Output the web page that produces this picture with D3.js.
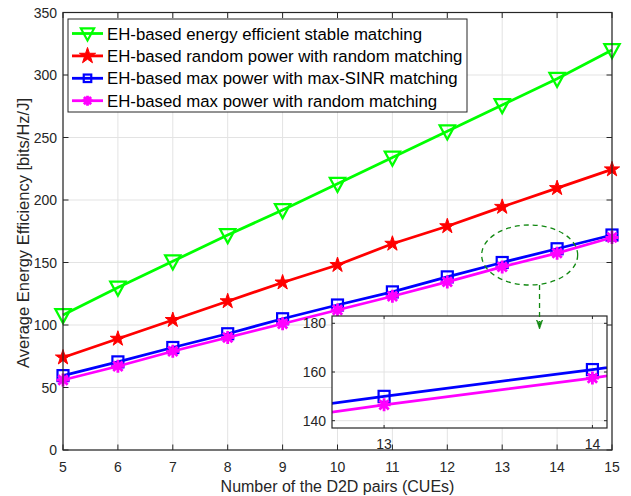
<!DOCTYPE html>
<html>
<head>
<meta charset="utf-8">
<script src="https://cdn.jsdelivr.net/npm/d3@7"></script>
<style>
  body { margin: 0; background: white; }
  svg { display: block; font-family: "Liberation Sans", Arial, sans-serif; }
</style>
</head>
<body>
<div id="chart"></div>
<script>
// 데이터
const pairs = [5, 6, 7, 8, 9, 10, 11, 12, 13, 14, 15];
const stableMatching = [108, 130, 151, 172, 192, 213, 234, 255, 276, 297, 320];
const randomPowerRandom = [74, 89, 104, 119, 134, 148, 165, 179, 194.5, 209.5, 224.5];
const maxPowerSinr = [59.5, 70.5, 82, 93, 105, 116, 126.5, 138.5, 150, 161, 172];
const maxPowerRandom = [56, 67, 79, 90, 101, 112, 123, 134.5, 146.5, 157.5, 170];
const yTicks = [0, 50, 100, 150, 200, 250, 300, 350];
const insetYTicks = [140, 160, 180];
const insetXTicks = [13, 14];
const seriesNames = [
  'EH-based energy efficient stable matching',
  'EH-based random power with random matching',
  'EH-based max power with max-SINR matching',
  'EH-based max power with random matching'
];

const series = [
  { name: seriesNames[0], values: stableMatching, color: '#00ff00', marker: 'tri' },
  { name: seriesNames[1], values: randomPowerRandom, color: '#ff0000', marker: 'star' },
  { name: seriesNames[2], values: maxPowerSinr, color: '#0000ff', marker: 'square' },
  { name: seriesNames[3], values: maxPowerRandom, color: '#ff00ff', marker: 'aster' }
];

const W = 631, H = 496;
const axisColor = '#262626';
const gridColor = '#e3e3e3';

const svg = d3.select('#chart').append('svg').attr('width', W).attr('height', H);

const x = d3.scaleLinear().domain([5, 15]).range([63, 612]);
const y = d3.scaleLinear().domain([0, 350]).range([450, 12.5]);

// 마커 그리기
function drawMarker(g, type, color, s) {
  if (type === 'tri') {
    g.append('path')
      .attr('d', `M${-s * 0.55},${-s * 0.42}L${s * 0.55},${-s * 0.42}L0,${s * 0.58}Z`)
      .attr('fill', 'none').attr('stroke', color).attr('stroke-width', 2.2);
  } else if (type === 'star') {
    // s = 바깥 반지름 * 2
    const r = s / 2;
    g.append('path')
      .attr('d', d3.symbol(d3.symbolStar, r * r / 0.8908)())
      .attr('fill', color).attr('stroke', color).attr('stroke-width', 1);
  } else if (type === 'square') {
    g.append('rect')
      .attr('x', -s / 2).attr('y', -s / 2).attr('width', s).attr('height', s)
      .attr('fill', 'none').attr('stroke', color).attr('stroke-width', 2.2);
  } else {
    const r = s / 2, d = r * 0.72;
    g.append('path')
      .attr('d', `M${-r},0L${r},0M0,${-r}L0,${r}M${-d},${-d}L${d},${d}M${-d},${d}L${d},${-d}`)
      .attr('fill', 'none').attr('stroke', color).attr('stroke-width', 2.8);
  }
}

const markerSize = { tri: 14, star: 16, square: 11, aster: 13 };

// 그리드
const main = svg.append('g');
main.selectAll('.vgrid').data(pairs).enter().append('line')
  .attr('x1', d => x(d)).attr('x2', d => x(d))
  .attr('y1', y(0)).attr('y2', y(350))
  .attr('stroke', gridColor).attr('stroke-width', 1);
main.selectAll('.hgrid').data(yTicks).enter().append('line')
  .attr('x1', x(5)).attr('x2', x(15))
  .attr('y1', d => y(d)).attr('y2', d => y(d))
  .attr('stroke', gridColor).attr('stroke-width', 1);

// 선 + 마커
const line = d3.line().x((d, i) => x(pairs[i])).y(d => y(d));
series.forEach(s => {
  main.append('path').datum(s.values)
    .attr('d', line)
    .attr('fill', 'none').attr('stroke', s.color).attr('stroke-width', 2.8);
  s.values.forEach((v, i) => {
    const g = main.append('g').attr('transform', `translate(${x(pairs[i])},${y(v)})`);
    drawMarker(g, s.marker, s.color, markerSize[s.marker]);
  });
});

// 축 (MATLAB 스타일, 안쪽 눈금)
function boxAxes(g, xs, ys, xt, yt, tickLen) {
  const [x0, x1] = xs.range(), [y0, y1] = ys.range();
  g.append('rect')
    .attr('x', x0).attr('y', y1).attr('width', x1 - x0).attr('height', y0 - y1)
    .attr('fill', 'none').attr('stroke', axisColor).attr('stroke-width', 1.2);
  xt.forEach(t => {
    g.append('line').attr('x1', xs(t)).attr('x2', xs(t)).attr('y1', y0).attr('y2', y0 - tickLen)
      .attr('stroke', axisColor);
    g.append('line').attr('x1', xs(t)).attr('x2', xs(t)).attr('y1', y1).attr('y2', y1 + tickLen)
      .attr('stroke', axisColor);
  });
  yt.forEach(t => {
    g.append('line').attr('x1', x0).attr('x2', x0 + tickLen).attr('y1', ys(t)).attr('y2', ys(t))
      .attr('stroke', axisColor);
    g.append('line').attr('x1', x1).attr('x2', x1 - tickLen).attr('y1', ys(t)).attr('y2', ys(t))
      .attr('stroke', axisColor);
  });
}

const axes = svg.append('g');
boxAxes(axes, x, y, pairs, yTicks, 5.5);
axes.selectAll('.xl').data(pairs).enter().append('text')
  .attr('x', d => x(d)).attr('y', 472)
  .attr('text-anchor', 'middle').attr('font-size', 14).attr('fill', axisColor)
  .text(d => d);
axes.selectAll('.yl').data(yTicks).enter().append('text')
  .attr('x', 57).attr('y', d => y(d) + 5)
  .attr('text-anchor', 'end').attr('font-size', 14).attr('fill', axisColor)
  .text(d => d);

svg.append('text')
  .attr('x', x(10)).attr('y', 492)
  .attr('text-anchor', 'middle').attr('font-size', 16).attr('fill', axisColor)
  .text('Number of the D2D pairs (CUEs)');
svg.append('text')
  .attr('transform', `translate(29,233) rotate(-90)`)
  .attr('text-anchor', 'middle').attr('font-size', 16.5).attr('fill', axisColor)
  .text('Average Energy Efficiency [bits/Hz/J]');

// 확대 삽입 그림
const xi = d3.scaleLinear().domain([12.75, 14.07]).range([332, 607]);
const yi = d3.scaleLinear().domain([137, 183]).range([428, 316]);
const inset = svg.append('g');
inset.append('rect')
  .attr('x', 332).attr('y', 316).attr('width', 275).attr('height', 112)
  .attr('fill', 'white');
inset.append('clipPath').attr('id', 'insetClip')
  .append('rect').attr('x', 332).attr('y', 316).attr('width', 275).attr('height', 112);
insetXTicks.forEach(t => {
  inset.append('line').attr('x1', xi(t)).attr('x2', xi(t)).attr('y1', 316).attr('y2', 428)
    .attr('stroke', gridColor);
});
insetYTicks.forEach(t => {
  inset.append('line').attr('x1', 332).attr('x2', 607).attr('y1', yi(t)).attr('y2', yi(t))
    .attr('stroke', gridColor);
});
const lineI = d3.line().x((d, i) => xi(pairs[i])).y(d => yi(d));
const clipped = inset.append('g').attr('clip-path', 'url(#insetClip)');
series.slice(2).forEach(s => {
  clipped.append('path').datum(s.values)
    .attr('d', lineI)
    .attr('fill', 'none').attr('stroke', s.color).attr('stroke-width', 2.8);
  s.values.forEach((v, i) => {
    if (!insetXTicks.includes(pairs[i])) return;
    const g = clipped.append('g').attr('transform', `translate(${xi(pairs[i])},${yi(v)})`);
    drawMarker(g, s.marker, s.color, markerSize[s.marker]);
  });
});
boxAxes(inset, xi, yi, insetXTicks, insetYTicks, 3);
inset.selectAll('.ixl').data(insetXTicks).enter().append('text')
  .attr('x', d => xi(d)).attr('y', 449)
  .attr('text-anchor', 'middle').attr('font-size', 14).attr('fill', axisColor)
  .text(d => d);
inset.selectAll('.iyl').data(insetYTicks).enter().append('text')
  .attr('x', 326).attr('y', d => yi(d) + 5)
  .attr('text-anchor', 'end').attr('font-size', 14).attr('fill', axisColor)
  .text(d => d);

// 점선 타원 + 화살표
const zoomColor = '#118811';
svg.append('ellipse')
  .attr('cx', x(13.5)).attr('cy', y(156)).attr('rx', 48).attr('ry', 30)
  .attr('fill', 'none').attr('stroke', zoomColor).attr('stroke-width', 1.3)
  .attr('stroke-dasharray', '5,4');
const ax = x(13.68);
svg.append('line')
  .attr('x1', ax).attr('x2', ax).attr('y1', y(156) + 30).attr('y2', 322)
  .attr('stroke', zoomColor).attr('stroke-width', 1.3).attr('stroke-dasharray', '5,4');
svg.append('path')
  .attr('d', `M${ax - 3},${320}L${ax},${329}L${ax + 3},${320}L${ax},${323}Z`)
  .attr('fill', zoomColor).attr('stroke', zoomColor).attr('stroke-width', 0.8);

// 범례
const legend = svg.append('g');
legend.append('rect')
  .attr('x', 68).attr('y', 19).attr('width', 399).attr('height', 93)
  .attr('fill', 'white').attr('stroke', axisColor).attr('stroke-width', 1);
const legendMarker = { tri: 12, star: 17, square: 7.5, aster: 10 };
series.forEach((s, i) => {
  const ly = 33.5 + i * 22.4;
  legend.append('line')
    .attr('x1', 72).attr('x2', 103).attr('y1', ly).attr('y2', ly)
    .attr('stroke', s.color).attr('stroke-width', 2.8);
  const g = legend.append('g').attr('transform', `translate(87.5,${ly})`);
  drawMarker(g, s.marker, s.color, legendMarker[s.marker]);
  legend.append('text')
    .attr('x', 107).attr('y', ly + 6)
    .attr('font-size', 16.8).attr('fill', '#000')
    .text(s.name);
});
</script>
</body>
</html>
